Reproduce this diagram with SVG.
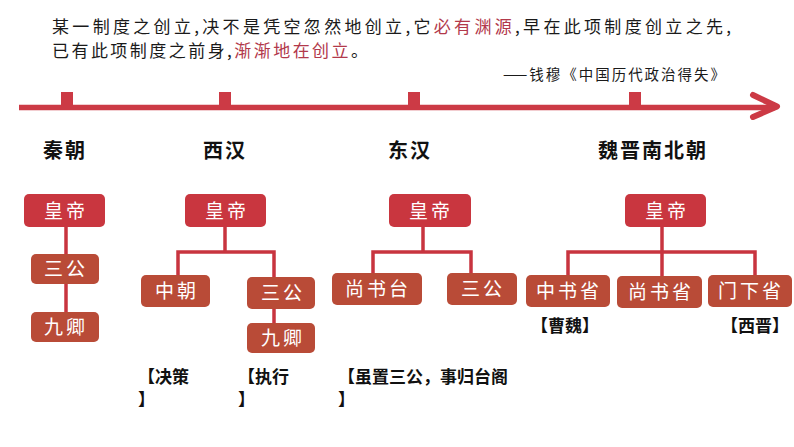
<svg xmlns="http://www.w3.org/2000/svg" width="794" height="447" viewBox="0 0 794 447">
<style>
.t{font-family:"Noto Sans CJK SC","Noto Sans",sans-serif;}
.quote{font-size:17px;fill:#1a1a1a;}
.red{fill:#b2394b;}
.dyn{font-size:20px;font-weight:bold;fill:#111;letter-spacing:2px;}
.emp{fill:#c9363f;}
.sub{fill:#b94b37;}
.nt{font-size:19px;fill:#fff;text-anchor:middle;letter-spacing:3px;}
.lbl{font-size:17px;font-weight:bold;fill:#111;}
.conn{stroke:#c8343f;stroke-width:3.5;fill:none;}
</style>
<rect width="794" height="447" fill="#fff"/>
<g id="quote" class="t">
<text class="t quote" x="52" y="33" textLength="679" lengthAdjust="spacing">某一制度之创立,决不是凭空忽然地创立,它<tspan class="red">必有渊源</tspan>,早在此项制度创立之先,</text>
<text class="t quote" x="52" y="57" textLength="316" lengthAdjust="spacing">已有此项制度之前身,<tspan class="red">渐渐地在创立</tspan>。</text>
<text class="t" x="503" y="80" font-size="14.5" fill="#1a1a1a" textLength="222" lengthAdjust="spacing">——钱穆《中国历代政治得失》</text>
</g>
<g id="timeline">
<line x1="19" y1="107.5" x2="775" y2="107.5" stroke="#cc3a45" stroke-width="5.5"/>
<polyline points="753,95 777,106.5 753,117" fill="none" stroke="#cc3a45" stroke-width="6" stroke-linecap="round" stroke-linejoin="round"/>
<rect x="61" y="92" width="12" height="14" fill="#cc3a45"/>
<rect x="219" y="92" width="12" height="14" fill="#cc3a45"/>
<rect x="408" y="92" width="12" height="14" fill="#cc3a45"/>
<rect x="629" y="92" width="12" height="14" fill="#cc3a45"/>
</g>
<g id="dynasties" class="t">
<text class="t dyn" x="43" y="158">秦朝</text>
<text class="t dyn" x="203" y="158">西汉</text>
<text class="t dyn" x="388" y="158">东汉</text>
<text class="t dyn" x="598" y="158">魏晋南北朝</text>
</g>
<g id="connectors">
<line class="conn" x1="66" y1="226" x2="66" y2="313"/>
<polyline class="conn" points="225,226 225,252"/>
<polyline class="conn" points="178,276 178,252 274,252 274,278"/>
<line class="conn" x1="274" y1="308" x2="274" y2="324"/>
<polyline class="conn" points="423,226 423,252"/>
<polyline class="conn" points="373,274 373,252 471,252 471,274"/>
<line class="conn" x1="662" y1="226" x2="662" y2="278"/>
<polyline class="conn" points="568,276 568,252 755,252 755,276"/>
</g>
<g id="qin-emperor"><rect class="emp" x="24" y="194" width="81" height="33" rx="5"/><text class="t nt" x="66" y="218">皇帝</text></g>
<g id="qin-sangong"><rect class="sub" x="31" y="254" width="68" height="30" rx="5"/><text class="t nt" x="66" y="276">三公</text></g>
<g id="qin-jiuqing"><rect class="sub" x="31" y="312" width="68" height="30" rx="5"/><text class="t nt" x="66" y="334">九卿</text></g>
<g id="xihan-emperor"><rect class="emp" x="185" y="194" width="81" height="33" rx="5"/><text class="t nt" x="227" y="218">皇帝</text></g>
<g id="xihan-zhongchao"><rect class="sub" x="141" y="275" width="69" height="32" rx="5"/><text class="t nt" x="177" y="298">中朝</text></g>
<g id="xihan-sangong"><rect class="sub" x="247" y="277" width="68" height="32" rx="5"/><text class="t nt" x="283" y="300">三公</text></g>
<g id="xihan-jiuqing"><rect class="sub" x="247" y="323" width="68" height="30" rx="5"/><text class="t nt" x="283" y="345">九卿</text></g>
<g id="donghan-emperor"><rect class="emp" x="389" y="194" width="82" height="33" rx="5"/><text class="t nt" x="431" y="218">皇帝</text></g>
<g id="donghan-shangshutai"><rect class="sub" x="332" y="273" width="90" height="32" rx="5"/><text class="t nt" x="378" y="296">尚书台</text></g>
<g id="donghan-sangong"><rect class="sub" x="447" y="273" width="70" height="32" rx="5"/><text class="t nt" x="483" y="296">三公</text></g>
<g id="wj-emperor"><rect class="emp" x="625" y="194" width="81" height="33" rx="5"/><text class="t nt" x="667" y="218">皇帝</text></g>
<g id="wj-zhongshusheng"><rect class="sub" x="526" y="275" width="84" height="32" rx="5"/><text class="t nt" x="569" y="298">中书省</text></g>
<g id="wj-shangshusheng"><rect class="sub" x="617" y="276" width="85" height="32" rx="5"/><text class="t nt" x="661" y="299">尚书省</text></g>
<g id="wj-menxiasheng"><rect class="sub" x="708" y="275" width="84" height="32" rx="5"/><text class="t nt" x="751" y="298">门下省</text></g>
<g id="labels" class="t">
<text class="t lbl" x="531" y="332">【曹魏】</text>
<text class="t lbl" x="721" y="332">【西晋】</text>
<text class="t lbl" x="138" y="383">【决策</text>
<text class="t lbl" x="138" y="406">】</text>
<text class="t lbl" x="238" y="383">【执行</text>
<text class="t lbl" x="238" y="406">】</text>
<text class="t lbl" x="338" y="383">【虽置三公，事归台阁</text>
<text class="t lbl" x="338" y="406">】</text>
</g>
</svg>
